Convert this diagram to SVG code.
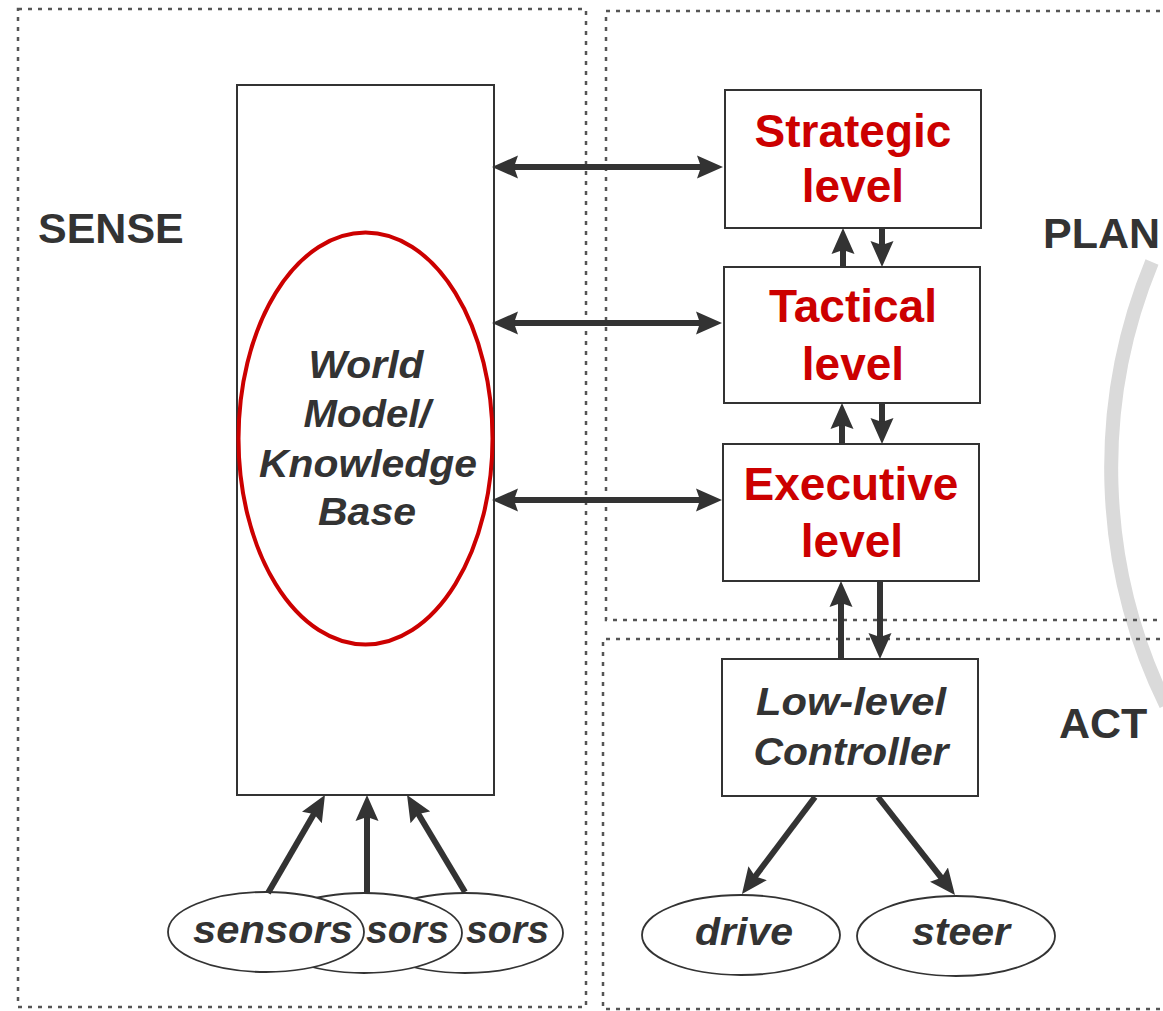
<svg xmlns="http://www.w3.org/2000/svg" width="1163" height="1011" viewBox="0 0 1163 1011">
  <defs>
    <marker id="head" markerUnits="userSpaceOnUse" viewBox="0 0 26 24" markerWidth="26" markerHeight="24" refX="6" refY="12" orient="auto-start-reverse">
      <path d="M0,0.5 L26,12 L0,23.5 L4,12 Z" fill="#333"/>
    </marker>
    <style>
      .panel { fill: none; stroke: #555; stroke-width: 2.5; stroke-dasharray: 4 6; }
      .box { fill: #fff; stroke: #333; stroke-width: 2; }
      .oval { fill: #fff; stroke: #333; stroke-width: 1.8; }
      .link { fill: none; stroke: #333; stroke-width: 6; }
      .dbl { marker-start: url(#head); marker-end: url(#head); }
      .one { marker-end: url(#head); }
      .zone { font-family: "Liberation Sans", Arial, sans-serif; font-weight: bold; font-size: 43px; fill: #333; }
      .lvl { font-family: "Liberation Sans", Arial, sans-serif; font-weight: bold; font-size: 46px; fill: #cc0000; text-anchor: middle; }
      .it { font-family: "Liberation Sans", Arial, sans-serif; font-weight: bold; font-style: italic; font-size: 38px; fill: #333; text-anchor: middle; }
      .left { text-anchor: start; }
    </style>
  </defs>

  <rect width="1163" height="1011" fill="#fff"/>

  <!-- faint cycle arc behind the PLAN / ACT panels -->
  <path d="M1152,262 A540,540 0 0 0 1166,705" fill="none" stroke="#dadada" stroke-width="14"/>

  <!-- dotted panels -->
  <g id="panels">
    <rect class="panel" x="18" y="9" width="568" height="998"/>
    <path class="panel" d="M1170,11 H606 V620 H1170"/>
    <path class="panel" d="M1170,639 H603 V1009 H1170"/>
  </g>

  <g id="zone-labels">
    <text class="zone" x="38" y="243">SENSE</text>
    <text class="zone" x="1043" y="248">PLAN</text>
    <text class="zone" x="1059" y="738" font-size="42">ACT</text>
  </g>

  <!-- world model -->
  <g id="world-model">
    <rect class="box" x="237" y="85" width="257" height="710"/>
    <ellipse cx="365.5" cy="438.5" rx="127" ry="206" fill="none" stroke="#cc0000" stroke-width="4"/>
    <text class="it" x="366" y="378" textLength="115" lengthAdjust="spacingAndGlyphs">World</text>
    <text class="it" x="367" y="427" textLength="127" lengthAdjust="spacingAndGlyphs">Model/</text>
    <text class="it" x="368" y="477" textLength="218" lengthAdjust="spacingAndGlyphs">Knowledge</text>
    <text class="it" x="367" y="525" textLength="98" lengthAdjust="spacingAndGlyphs">Base</text>
  </g>

  <g id="strategic">
    <rect class="box" x="725" y="90" width="256" height="138"/>
    <text class="lvl" x="853" y="147">Strategic</text>
    <text class="lvl" x="853" y="202">level</text>
  </g>

  <g id="tactical">
    <rect class="box" x="724" y="267" width="256" height="136"/>
    <text class="lvl" x="853" y="322">Tactical</text>
    <text class="lvl" x="853" y="380">level</text>
  </g>

  <g id="executive">
    <rect class="box" x="723" y="444" width="256" height="137"/>
    <text class="lvl" x="851" y="500">Executive</text>
    <text class="lvl" x="852" y="557">level</text>
  </g>

  <g id="low-level-controller">
    <rect class="box" x="722" y="659" width="256" height="137"/>
    <text class="it" x="851" y="715" textLength="190" lengthAdjust="spacingAndGlyphs">Low-level</text>
    <text class="it" x="851" y="765" textLength="195" lengthAdjust="spacingAndGlyphs">Controller</text>
  </g>

  <!-- sensors, drawn back to front -->
  <g id="sensor-3">
    <ellipse class="oval" cx="465" cy="933" rx="98" ry="40"/>
    <text class="it left" x="466" y="943" textLength="83" lengthAdjust="spacingAndGlyphs">sors</text>
  </g>
  <g id="sensor-2">
    <ellipse class="oval" cx="364" cy="933" rx="98" ry="40"/>
    <text class="it left" x="366" y="943" textLength="83" lengthAdjust="spacingAndGlyphs">sors</text>
  </g>
  <g id="sensor-1">
    <ellipse class="oval" cx="266" cy="932" rx="98" ry="40"/>
    <text class="it" x="273" y="943" textLength="160" lengthAdjust="spacingAndGlyphs">sensors</text>
  </g>

  <g id="drive">
    <ellipse class="oval" cx="741" cy="935" rx="99" ry="40"/>
    <text class="it" x="744" y="945" textLength="98" lengthAdjust="spacingAndGlyphs">drive</text>
  </g>
  <g id="steer">
    <ellipse class="oval" cx="956" cy="936" rx="99" ry="40"/>
    <text class="it" x="961" y="945" textLength="98" lengthAdjust="spacingAndGlyphs">steer</text>
  </g>

  <!-- connectors -->
  <g id="connectors">
    <line class="link dbl" x1="512" y1="167" x2="703" y2="167"/>
    <line class="link dbl" x1="512" y1="323" x2="702" y2="323"/>
    <line class="link dbl" x1="512" y1="500" x2="702" y2="500"/>

    <line class="link one" x1="843" y1="267" x2="843" y2="248"/>
    <line class="link one" x1="882" y1="228" x2="882" y2="247"/>
    <line class="link one" x1="842" y1="444" x2="842" y2="423"/>
    <line class="link one" x1="882" y1="403" x2="882" y2="424"/>
    <line class="link one" x1="841" y1="659" x2="841" y2="601"/>
    <line class="link one" x1="880" y1="581" x2="880" y2="639"/>

    <line class="link one" x1="268" y1="893" x2="314.9" y2="812.3"/>
    <line class="link one" x1="367" y1="893" x2="367" y2="815"/>
    <line class="link one" x1="465" y1="892" x2="417.3" y2="812.2"/>

    <line class="link one" x1="815" y1="797" x2="754" y2="878"/>
    <line class="link one" x1="878" y1="797" x2="942.6" y2="879.3"/>
  </g>
</svg>
